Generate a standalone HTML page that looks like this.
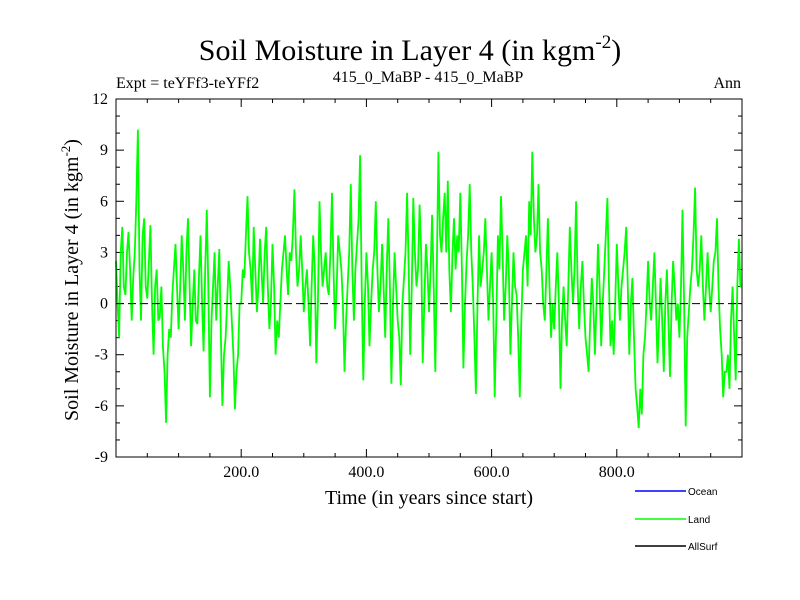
<!DOCTYPE html>
<html><head><meta charset="utf-8"><style>
body{margin:0;background:#fff}
svg{display:block;font-family:"Liberation Serif",serif}
</style></head><body>
<svg width="800" height="600" id="c">
<text x="410" y="60" font-size="30" text-anchor="middle">Soil Moisture in Layer 4 (in kgm<tspan dy="-12" font-size="19">-2</tspan><tspan dy="12">)</tspan></text>
<text x="116" y="88" font-size="16">Expt = teYFf3-teYFf2</text>
<text x="428" y="82" font-size="16" text-anchor="middle">415_0_MaBP - 415_0_MaBP</text>
<text x="741" y="88" font-size="16" text-anchor="end">Ann</text>
<text transform="translate(78,280) rotate(-90)" font-size="20" text-anchor="middle">Soil Moisture in Layer 4 (in kgm<tspan dy="-8" font-size="13">-2</tspan><tspan dy="8">)</tspan></text>
<text x="429" y="504" font-size="20" text-anchor="middle">Time (in years since start)</text>
<g id="ticks"></g>
<g id="plot"></g>
<rect x="116" y="99" width="626" height="358" fill="none" stroke="#000" stroke-width="1"/>
<g font-family="Liberation Sans,sans-serif" font-size="10">
<g><line x1="635" y1="491" x2="686" y2="491" stroke="#0000ff" stroke-width="1.5"/><text x="688" y="495">Ocean</text></g>
<g><line x1="635" y1="519" x2="686" y2="519" stroke="#00ff00" stroke-width="1.5"/><text x="688" y="523">Land</text></g>
<g><line x1="635" y1="546" x2="686" y2="546" stroke="#000" stroke-width="1.5"/><text x="688" y="550">AllSurf</text></g>
</g>
</svg>
<script>
const landValues = [
2.5,0,-2,3,4.5,1,0.5,3,4.2,2,-1,1.5,3,6,10.2,2,-1,4,5,1,0.3,2.5,4.6,0,-3,1,2,-1,-0.8,1,-2.5,-4,-7,-3,-1.5,-2,0.5,2,3.5,1,
-1.5,1,4,2,-1,3,5,1,-2.5,0,2,-1,-1.2,1.5,4,0,-2.8,2,5.5,1,-5.5,-1,1,3,-1,1,3.2,-2,-6,-3,-2,0,2.5,1,-1,-3,-6.2,-4,-3,0,
0,2,1.5,4,6.3,3,2,0,4.5,2,-0.5,1,3.8,2,0,3,4.5,1,-1.5,0,3.5,1,-3,-1,-2,0,2,3,4,2,0.5,3,2.5,4,6.7,3,1,2,4,2,
-0.5,1,2,0,-2.5,1,4,2,-3.5,0,6,3,1,2,3,1,0.5,3,6.5,2,-1.5,1,4,3,2,0,-4,-1,1,3,7,2,-1,2,3.5,5,8.7,1,-4.5,0,
3,1,-2.5,0,2,3,6,2,-0.5,1,3.5,1,-2,2,5,1,-4.7,0,3,1,-1,-2,-4.8,0,1.5,3,6.5,2,-3,1,6.2,3,1,2,5.8,3,-3.5,0,3.5,2,
-0.5,2,5.2,1,-4,2,8.9,4,3,5,6.5,3,7.2,2,-0.5,3,5,2,4,3,6.5,2,-3.8,0,2.5,4,7,3,1,-2,-5.3,0,4,1,2,3,5,2,-1,1,
3,0,-5.5,-1,4,2,6.3,3,-1,1,4,2,-3,0,3,1,0.5,-2,-5.5,-1,2,3,4,1,6,4,8.9,5,3,4,7,3,2,0,-1,2,5,1,-2,0,
-1.5,1,3,0,-5,-1,1,-1,-2.5,1,4.5,2,0,2,6,1,-1.5,1,2.5,0,-2,-3,-4,-1,1.5,0,-3,0,3.5,1,-2.5,0,2,4,6.2,1,-2.5,-1,-3,0,
3.5,1,-1,1,2,3,4.5,1,-3,0,1.5,-2,-5,-6,-7.3,-5,-6.5,-3,-2,0,2.5,0,-1,1,3,0,-3.5,-1,1.5,-1,-4,0,2,-1,-4.3,0,2.5,1,-1,0,
-2,1,5.5,0,-7.2,-2,-0.5,1,2,4,6.8,2,1,2,4,1,-1,1,3,1,-0.5,1,2.5,3,5,1,-1.5,-3,-5.5,-4,-4,-3,-5,-1,1,-2,-4.5,1,3.8,1,1];
const yearStep = 2.5;
const xTickValues = [200,400,600,800];
const xTickLabels = ["200.0","400.0","600.0","800.0"];
const yTickValues = [-9,-6,-3,0,3,6,9,12];
const yTickLabels = ["-9","-6","-3","0","3","6","9","12"];
const X0=116,X1=742,Y0=457,Y1=99;
const xs=v=>X0+(v-0)/(1000-0)*(X1-X0);
const ys=v=>Y0-(v+9)/(21)*(Y0-Y1);
const NS="http://www.w3.org/2000/svg";
const tg=document.getElementById('ticks'),pg=document.getElementById('plot');
function mk(tag,at,par){const e=document.createElementNS(NS,tag);for(const k in at)e.setAttribute(k,at[k]);par.appendChild(e);return e;}
for(let v=50;v<1000;v+=50){const major=v%200===0;const L=major?8:4;
 const a=mk('line',{x1:xs(v),x2:xs(v),y1:Y0,y2:Y0-L,stroke:'#000'},tg);
 
 
 const b=mk('line',{x1:xs(v),x2:xs(v),y1:Y1,y2:Y1+L,stroke:'#000'},tg);
 
 }
xTickValues.forEach((v,i)=>{const t=mk('text',{x:xs(v),y:Y0+20,'font-size':16,'text-anchor':'middle'},tg);t.textContent=xTickLabels[i];
 
 });
for(let v=-9;v<=12;v+=1){const major=v%3===0;const L=major?8:4;
 const a=mk('line',{x1:X0,x2:X0+L,y1:ys(v),y2:ys(v),stroke:'#000'},tg);
 
 
 const b=mk('line',{x1:X1,x2:X1-L,y1:ys(v),y2:ys(v),stroke:'#000'},tg);
 
 }
yTickValues.forEach((v,i)=>{const t=mk('text',{x:X0-8,y:ys(v)+5,'font-size':16,'text-anchor':'end'},tg);t.textContent=yTickLabels[i];
 
 });
const zl=mk('line',{x1:X0,x2:X1,y1:ys(0),y2:ys(0),stroke:'#000','stroke-dasharray':'8,4','stroke-width':1},pg);


const pts=landValues.map((v,i)=>xs(Math.min(1000,i*yearStep)).toFixed(1)+','+ys(v).toFixed(1)).join(' ');
const pl=mk('polyline',{points:pts,fill:'none',stroke:'#00ff00','stroke-width':1.8},pg);


pg.appendChild(zl);
</script>
</body></html>
